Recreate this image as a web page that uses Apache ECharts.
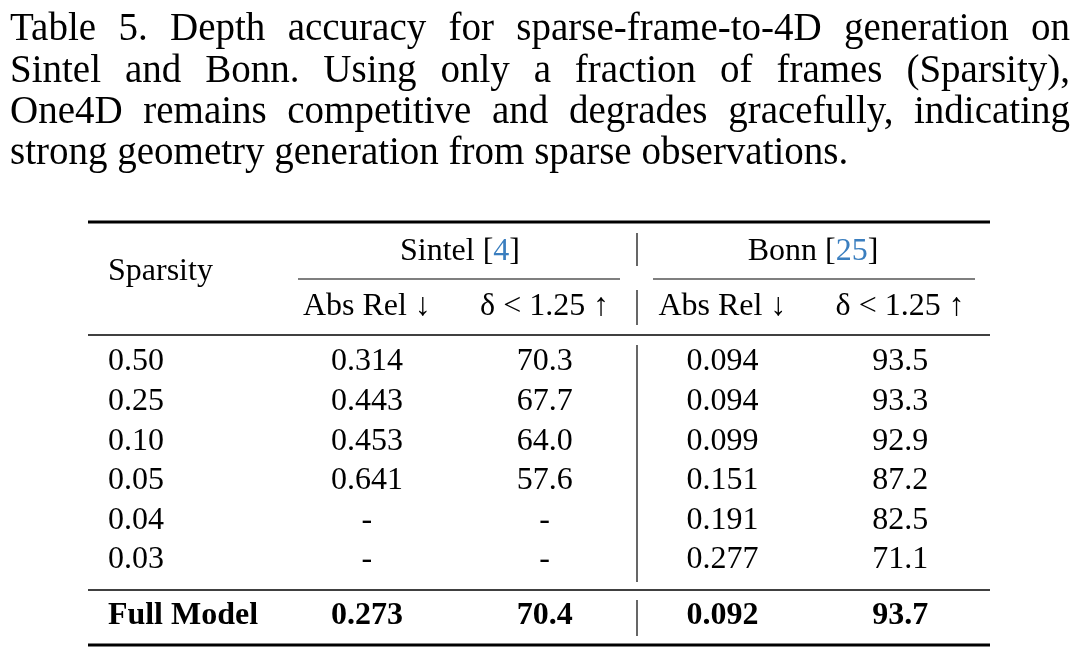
<!DOCTYPE html>
<html><head><meta charset="utf-8">
<script src="https://cdn.jsdelivr.net/npm/echarts@6/dist/echarts.min.js"></script>
<style>html,body{margin:0;background:#fff}#main{width:1080px;height:655px}</style>
</head><body><div id="main"></div>
<script>
var captionLines = [
  'Table 5.  Depth accuracy for sparse-frame-to-4D generation on',
  'Sintel and Bonn. Using only a fraction of frames (Sparsity),',
  'One4D remains competitive and degrades gracefully, indicating',
  'strong geometry generation from sparse observations.'
];
var rowLabels = ['0.50', '0.25', '0.10', '0.05', '0.04', '0.03', 'Full Model'];
var sintelAbsRel = ['0.314', '0.443', '0.453', '0.641', '-', '-', '0.273'];
var sintelDelta = ['70.3', '67.7', '64.0', '57.6', '-', '-', '70.4'];
var bonnAbsRel = ['0.094', '0.094', '0.099', '0.151', '0.191', '0.277', '0.092'];
var bonnDelta = ['93.5', '93.3', '92.9', '87.2', '82.5', '71.1', '93.7'];
var subHeaders = ['Abs Rel ↓', 'δ < 1.25 ↑', 'Abs Rel ↓', 'δ < 1.25 ↑'];

var FONT = '"Liberation Serif", "Times New Roman", serif';
var CF = '39px ' + FONT;
var myChart = echarts.init(document.getElementById('main'));

// justified caption
var ctx = document.createElement('canvas').getContext('2d');
ctx.font = CF;
var graphics = [];
captionLines.forEach(function (line, li) {
  var y = 30 + li * 41.3;
  if (li === captionLines.length - 1) {
    graphics.push({type: 'text', x: 10, y: y, style: {text: line, font: CF, fill: '#000', textVerticalAlign: 'middle'}});
    return;
  }
  var words = line.split(/ +/);
  var tot = 0;
  words.forEach(function (w) { tot += ctx.measureText(w).width; });
  var gap = (1060 - tot) / (words.length - 1);
  var x = 10;
  words.forEach(function (w) {
    graphics.push({type: 'text', x: x, y: y, style: {text: w, font: CF, fill: '#000', textVerticalAlign: 'middle'}});
    x += ctx.measureText(w).width + gap;
  });
});

function hline(x1, x2, y, w) {
  graphics.push({type: 'line', shape: {x1: x1, y1: y, x2: x2, y2: y}, style: {stroke: '#000', lineWidth: w}});
}
function vline(y1, y2) {
  graphics.push({type: 'line', shape: {x1: 637, y1: y1, x2: 637, y2: y2}, style: {stroke: '#000', lineWidth: 1.2}});
}
hline(88, 990, 222, 3);
hline(298, 620, 279, 1.2);
hline(653, 975, 279, 1.2);
hline(88, 990, 335, 1.5);
hline(88, 990, 590, 1.5);
hline(88, 990, 645, 3);
vline(233, 266); vline(290, 325); vline(345, 582); vline(600, 636);

var tf = '32px ' + FONT;
graphics.push({type: 'text', x: 108, y: 272, style: {text: 'Sparsity', font: tf, fill: '#000', textVerticalAlign: 'middle'}});
graphics.push({type: 'text', x: 460, y: 252, style: {text: '{a|Sintel [}{b|4}{a|]}', textAlign: 'center', textVerticalAlign: 'middle',
  rich: {a: {font: tf, fill: '#000'}, b: {font: tf, fill: '#3a7ebf'}}}});
graphics.push({type: 'text', x: 813, y: 252, style: {text: '{a|Bonn [}{b|25}{a|]}', textAlign: 'center', textVerticalAlign: 'middle',
  rich: {a: {font: tf, fill: '#000'}, b: {font: tf, fill: '#3a7ebf'}}}});

// table body through the axes
var cols = [sintelAbsRel, sintelDelta, bonnAbsRel, bonnDelta];
var rowPos = rowLabels.map(function (r, i) { return i < rowLabels.length - 1 ? i : i + 0.41; });
var cells = [];
cols.forEach(function (col, c) {
  cells.push({value: [c + 1, -1.4], label: {formatter: subHeaders[c]}});
  col.forEach(function (v, r) {
    cells.push({value: [c + 1, rowPos[r]], label: {formatter: v, fontWeight: r === col.length - 1 ? 'bold' : 'normal'}});
  });
});
var labelX = 1 - (367 - 108) / 177.75;
var rowCells = rowLabels.map(function (v, r) {
  return {value: [labelX, rowPos[r]], label: {formatter: v, fontWeight: r === rowLabels.length - 1 ? 'bold' : 'normal'}};
});
var lbl = {show: true, position: 'inside', color: '#000', opacity: 1, fontFamily: FONT, fontSize: 32};

myChart.setOption({
  animation: false,
  grid: {left: 278, right: 91, top: 342.2, bottom: 15.8},
  xAxis: {type: 'value', min: 0.5, max: 4.5, show: false},
  yAxis: {type: 'value', min: -0.5, max: 7, inverse: true, show: false},
  graphic: graphics,
  series: [
    {type: 'scatter', symbolSize: 0, clip: false, data: cells, label: lbl, itemStyle: {opacity: 1}},
    {type: 'scatter', symbolSize: 0, clip: false, data: rowCells, itemStyle: {opacity: 1},
      label: Object.assign({}, lbl, {position: 'right', distance: 0})}
  ]
});
</script></body></html>
